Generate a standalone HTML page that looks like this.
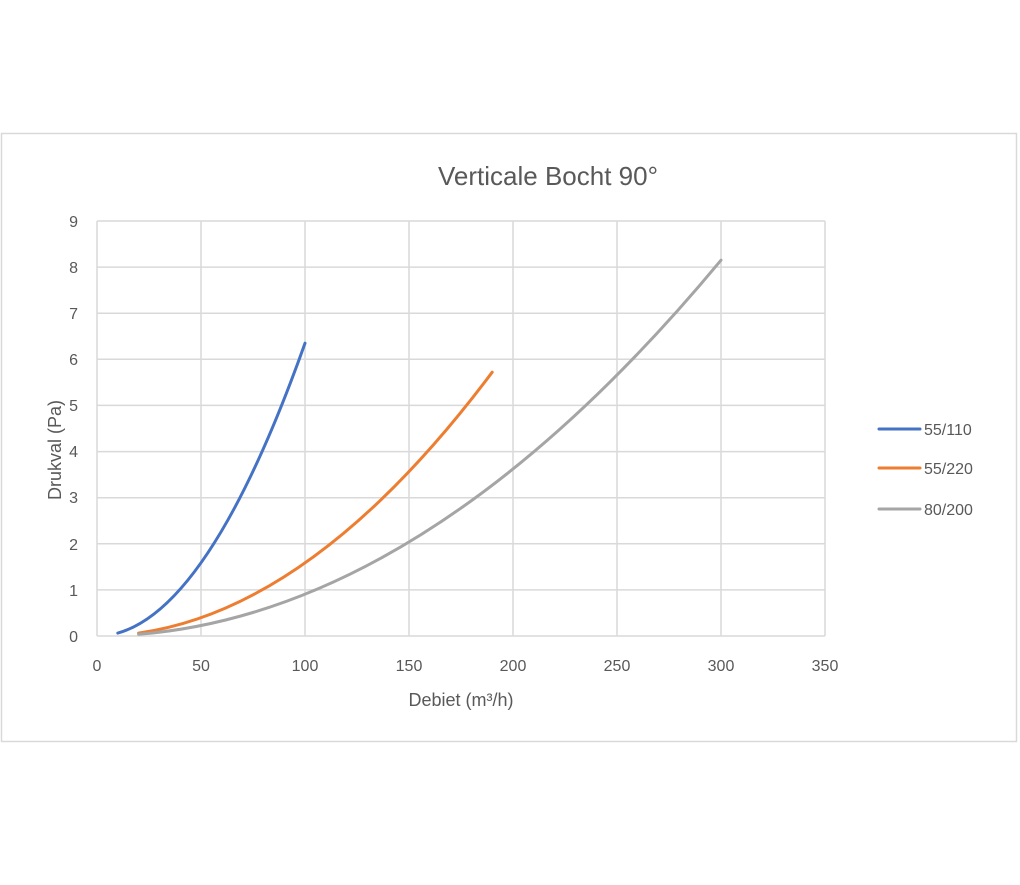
<!DOCTYPE html>
<html><head><style>body{margin:0;background:#fff}</style></head><body>
<svg width="1020" height="880" xmlns="http://www.w3.org/2000/svg" font-family="Liberation Sans, sans-serif">
<rect x="1.5" y="133.5" width="1015" height="608" fill="#fff" stroke="#d9d9d9" stroke-width="1.5"/>
<g stroke="#d9d9d9" stroke-width="1.5">
<line x1="97" y1="221" x2="825" y2="221"/><line x1="97" y1="267.1" x2="825" y2="267.1"/>
<line x1="97" y1="313.2" x2="825" y2="313.2"/><line x1="97" y1="359.3" x2="825" y2="359.3"/>
<line x1="97" y1="405.4" x2="825" y2="405.4"/><line x1="97" y1="451.6" x2="825" y2="451.6"/>
<line x1="97" y1="497.7" x2="825" y2="497.7"/><line x1="97" y1="543.8" x2="825" y2="543.8"/>
<line x1="97" y1="589.9" x2="825" y2="589.9"/><line x1="97" y1="636" x2="825" y2="636"/>
<line x1="97" y1="221" x2="97" y2="636"/><line x1="201" y1="221" x2="201" y2="636"/>
<line x1="305" y1="221" x2="305" y2="636"/><line x1="409" y1="221" x2="409" y2="636"/>
<line x1="513" y1="221" x2="513" y2="636"/><line x1="617" y1="221" x2="617" y2="636"/>
<line x1="721" y1="221" x2="721" y2="636"/><line x1="825" y1="221" x2="825" y2="636"/>
</g>
<g fill="#595959" font-size="16" text-anchor="end">
<text x="78" y="227">9</text><text x="78" y="273">8</text><text x="78" y="319">7</text>
<text x="78" y="365">6</text><text x="78" y="411">5</text><text x="78" y="457">4</text>
<text x="78" y="503">3</text><text x="78" y="550">2</text><text x="78" y="596">1</text><text x="78" y="642">0</text>
</g>
<g fill="#595959" font-size="16" text-anchor="middle">
<text x="97" y="671">0</text><text x="201" y="671">50</text><text x="305" y="671">100</text>
<text x="409" y="671">150</text><text x="513" y="671">200</text><text x="617" y="671">250</text>
<text x="721" y="671">300</text><text x="825" y="671">350</text>
<text x="461" y="706" font-size="18">Debiet (m³/h)</text>
<text x="548" y="185" font-size="26">Verticale Bocht 90°</text>
<text transform="translate(61,450) rotate(-90)" font-size="18">Drukval (Pa)</text>
</g>
<g fill="none" stroke-width="3" stroke-linecap="round">
<path d="M117.8,633.1 Q211.4,606.7 305,343.2" stroke="#4472c4"/>
<path d="M138.6,633.1 Q315.4,608.2 492.2,372.2" stroke="#ed7d31"/>
<path d="M138.6,634.3 Q429.8,610.9 721,260.2" stroke="#a5a5a5"/>
<line x1="879" y1="429" x2="920" y2="429" stroke="#4472c4"/>
<line x1="879" y1="468" x2="920" y2="468" stroke="#ed7d31"/>
<line x1="879" y1="509" x2="920" y2="509" stroke="#a5a5a5"/>
</g>
<g fill="#595959" font-size="16">
<text x="924" y="435">55/110</text><text x="924" y="474">55/220</text><text x="924" y="515">80/200</text>
</g>
</svg>
</body></html>
